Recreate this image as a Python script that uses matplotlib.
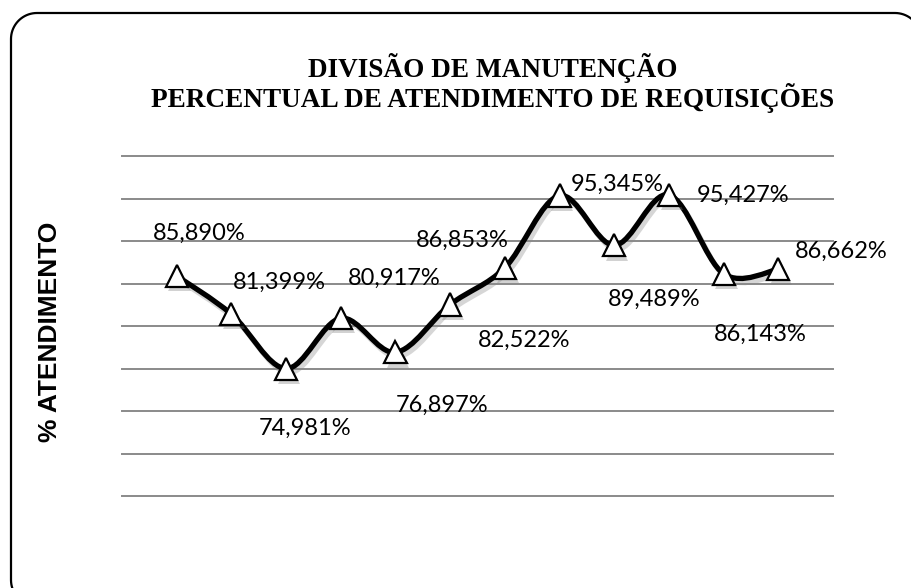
import matplotlib
matplotlib.use("Agg")
import matplotlib.pyplot as plt
import matplotlib.patheffects as pe
from matplotlib.path import Path
from matplotlib.patches import PathPatch
import numpy as np

# data
months = list(range(1, 13))
pct = [85.890, 81.399, 74.981, 80.917, 76.897, 82.522,
       86.853, 95.345, 89.489, 95.427, 86.143, 86.662]
title_lines = ["DIVISÃO DE MANUTENÇÃO", "PERCENTUAL DE ATENDIMENTO DE REQUISIÇÕES"]
y_title = "% ATENDIMENTO"
grid_ticks = [60, 65, 70, 75, 80, 85, 90, 95, 100]

# label offsets in pixels (dx, dy) relative to each point
lbl_off = [(23, 43), (48, 32), (19, -60), (53, 40), (47, -53), (74, -36),
           (-43, 27), (58, 11), (40, -54), (74, 0), (37, -61), (63, 18)]

W, H = 911, 588
fig = plt.figure(figsize=(W / 100, H / 100), dpi=100)


def rounded_frame(x0, y0, x1, y1, r, steps=20):
    # closed outline of a rounded rectangle, pixel units, y up
    pts = []
    corners = [(x1 - r, y1 - r, 0), (x0 + r, y1 - r, 90),
               (x0 + r, y0 + r, 180), (x1 - r, y0 + r, 270)]
    for cx, cy, a0 in corners:
        t = np.radians(np.linspace(a0, a0 + 90, steps))
        pts += list(zip(cx + r * np.cos(t), cy + r * np.sin(t)))
    pts.append(pts[0])
    return Path(pts)


# background axes in pixel units (y up) for the rounded frame
bg = fig.add_axes([0, 0, 1, 1])
bg.set_xlim(0, W)
bg.set_ylim(0, H)
bg.axis("off")
frame = PathPatch(rounded_frame(11, H - 606, 921, H - 13, 26),
                  fill=False, edgecolor="black", linewidth=1.6)
bg.add_patch(frame)

ax = fig.add_axes([122 / W, 1 - 496 / H, 711 / W, 340 / H])
ax.set_xlim(0, 13)
ax.set_ylim(60, 100)
ax.set_yticks(grid_ticks)
ax.set_xticks([])
ax.tick_params(left=False, labelleft=False)
ax.patch.set_visible(False)
for s in ax.spines.values():
    s.set_visible(False)
ax.grid(axis="y", color="#8a8a8a", linewidth=1.4)
for gl in ax.get_ygridlines():
    gl.set_clip_on(False)
ax.set_axisbelow(True)

# smoothed line (Catmull-Rom style bezier through the points)
pts = np.column_stack([months, pct]).astype(float)
verts = [pts[0]]
codes = [Path.MOVETO]
n = len(pts)
for i in range(n - 1):
    p0 = pts[i - 1] if i > 0 else pts[i]
    p1 = pts[i]
    p2 = pts[i + 1]
    p3 = pts[i + 2] if i + 2 < n else pts[i + 1]
    c1 = p1 + (p2 - p0) / 6.0
    c2 = p2 - (p3 - p1) / 6.0
    verts += [c1, c2, p2]
    codes += [Path.CURVE4] * 3
curve = PathPatch(Path(verts, codes), fill=False, edgecolor="black",
                  linewidth=3.8, capstyle="round", joinstyle="round", zorder=3,
                  path_effects=[pe.SimpleLineShadow(offset=(2, -3), shadow_color="0.55", alpha=0.35),
                                pe.Normal()])
ax.add_patch(curve)

ax.plot(months, pct, linestyle="none", marker="^", markersize=16,
        markerfacecolor="white", markeredgecolor="black", markeredgewidth=1.6,
        zorder=4, clip_on=False,
        path_effects=[pe.SimplePatchShadow(offset=(2, -3), shadow_rgbFace="0.5", alpha=0.35),
                      pe.Normal()])

for x, v, (dx, dy) in zip(months, pct, lbl_off):
    ax.annotate(f"{v:.3f}".replace(".", ",") + "%", (x, v),
                xytext=(dx, dy), textcoords="offset pixels",
                ha="center", va="center", fontsize=17, family="Lato",
                color="black", zorder=5, annotation_clip=False)

fig.text(493 / W, 1 - 83 / H, "\n".join(title_lines), ha="center", va="center",
         family="Liberation Serif", fontweight="bold", fontsize=19.6,
         linespacing=0.98)
fig.text(50 / W, 1 - 332 / H, y_title, rotation=90, ha="center", va="center",
         family="Liberation Sans", fontweight="bold", fontsize=19)

fig.savefig("out.png", dpi=100)
